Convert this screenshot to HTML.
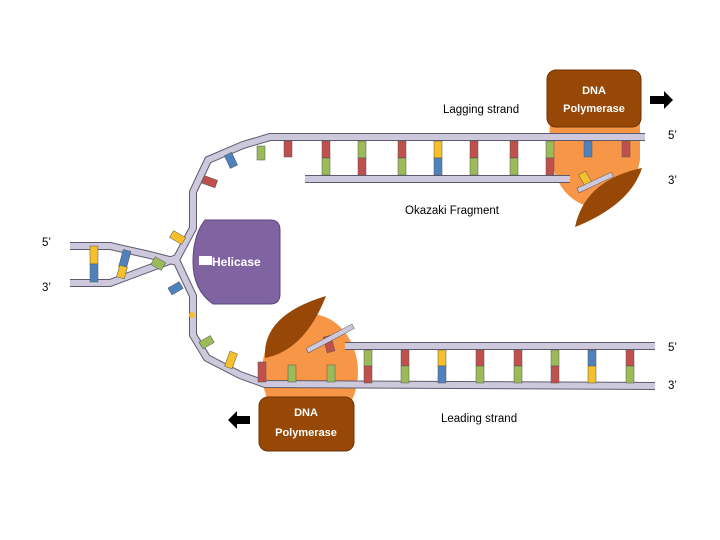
<!DOCTYPE html>
<html><head><meta charset="utf-8"><style>
body{margin:0;background:#fff}
svg{display:block}
text{font-family:"Liberation Sans",sans-serif}
.b rect{stroke:#555;stroke-width:0.5}
</style></head><body>
<svg width="720" height="540" viewBox="0 0 720 540" xmlns="http://www.w3.org/2000/svg">
<!-- orange blobs -->
<path d="M550,122 Q545,195 590,207 Q632,205 640,160 L640,118 Z" fill="#f79646"/>
<ellipse cx="310" cy="372" rx="48" ry="58" fill="#f79646"/>
<!-- polymerase boxes -->
<rect x="547" y="70" width="94" height="57" rx="9" fill="#974806" stroke="#6b3303" stroke-width="1"/>
<text x="594" y="94" font-size="11" font-weight="bold" fill="#fff" text-anchor="middle">DNA</text>
<text x="594" y="112" font-size="11" font-weight="bold" fill="#fff" text-anchor="middle">Polymerase</text>
<rect x="259" y="397" width="95" height="54" rx="9" fill="#974806" stroke="#6b3303" stroke-width="1"/>
<text x="306" y="416" font-size="11" font-weight="bold" fill="#fff" text-anchor="middle">DNA</text>
<text x="306" y="436" font-size="11" font-weight="bold" fill="#fff" text-anchor="middle">Polymerase</text>
<!-- helicase -->
<path d="M205,220 H270 Q280,220 280,230 V294 Q280,304 270,304 H213 Q193,290 193,262 Q193,235 205,220 Z" fill="#8064a2" stroke="#5c4678" stroke-width="1"/>
<rect x="199" y="256" width="13" height="9" fill="#fff"/>
<text x="212" y="266" font-size="12" font-weight="bold" fill="#fff">Helicase</text>
<!-- arrows -->
<path d="M650,96 H664 V91 L673,100 L664,109 V104 H650 Z" fill="#000"/>
<path d="M250,416 H237 V411 L228,420 L237,429 V424 H250 Z" fill="#000"/>
<!-- strands -->
<g fill="none" stroke="#5e5a6e" stroke-width="8" stroke-linejoin="miter">
<polyline points="645,137 270,137 243,145 208,160 193,192 193,228 177,258 150,268 110,283 70,283"/>
<polyline points="70,246 110,246 150,255 177,262 193,296 193,335 207,358 240,375 265,384 655,386"/>
<polyline points="305,179 570,179"/>
<polyline points="345,346 655,346"/>
</g>
<g fill="none" stroke="#cdc8dc" stroke-width="6" stroke-linejoin="miter">
<polyline points="645,137 270,137 243,145 208,160 193,192 193,228 177,258 150,268 110,283 70,283"/>
<polyline points="70,246 110,246 150,255 177,262 193,296 193,335 207,358 240,375 265,384 655,386"/>
<polyline points="305,179 570,179"/>
<polyline points="345,346 655,346"/>
</g>
<g class="b">
<rect x="284" y="141" width="8" height="16" fill="#c0504d"/>
<rect x="322" y="141" width="8" height="17" fill="#c0504d"/><rect x="322" y="158" width="8" height="17" fill="#9bbb59"/>
<rect x="358" y="141" width="8" height="17" fill="#9bbb59"/><rect x="358" y="158" width="8" height="17" fill="#c0504d"/>
<rect x="398" y="141" width="8" height="17" fill="#c0504d"/><rect x="398" y="158" width="8" height="17" fill="#9bbb59"/>
<rect x="434" y="141" width="8" height="17" fill="#f5c02a"/><rect x="434" y="158" width="8" height="17" fill="#4f81bd"/>
<rect x="470" y="141" width="8" height="17" fill="#c0504d"/><rect x="470" y="158" width="8" height="17" fill="#9bbb59"/>
<rect x="510" y="141" width="8" height="17" fill="#c0504d"/><rect x="510" y="158" width="8" height="17" fill="#9bbb59"/>
<rect x="546" y="141" width="8" height="17" fill="#9bbb59"/><rect x="546" y="158" width="8" height="17" fill="#c0504d"/>
<rect x="584" y="141" width="8" height="16" fill="#4f81bd"/>
<rect x="622" y="141" width="8" height="16" fill="#c0504d"/>
<rect x="257" y="146" width="8" height="14" fill="#9bbb59"/>
<rect x="224" y="154" width="8" height="14" fill="#4f81bd" transform="rotate(-25 228 154)"/>
<rect x="201" y="178" width="8" height="14" fill="#c0504d" transform="rotate(-70 205 180)"/>
<rect x="171" y="232" width="8" height="14" fill="#f5c02a" transform="rotate(-60 175 236)"/>
<rect x="154" y="258" width="9" height="12" fill="#9bbb59" transform="rotate(-60 158 264)"/>
<rect x="172" y="282" width="8" height="13" fill="#4f81bd" transform="rotate(60 176 288)"/>
<circle cx="192" cy="315" r="3" fill="#f5c02a"/>
<rect x="203" y="336" width="8" height="13" fill="#9bbb59" transform="rotate(60 207 342)"/>
<rect x="227" y="352" width="8" height="16" fill="#f5c02a" transform="rotate(20 231 360)"/>
<rect x="90" y="246" width="8" height="18" fill="#f5c02a"/><rect x="90" y="264" width="8" height="18" fill="#4f81bd"/>
<rect x="120" y="250" width="8" height="18" fill="#4f81bd" transform="rotate(15 124 262)"/><rect x="118" y="266" width="8" height="12" fill="#f5c02a" transform="rotate(15 122 272)"/>
<rect x="582" y="172" width="8" height="16" fill="#f5c02a" transform="rotate(-30 586 180)"/>
<rect x="576" y="180" width="38" height="5" fill="#cdc8dc" stroke="#5e5a6e" stroke-width="0.8" transform="rotate(-25 595 182)"/>
<rect x="364" y="350" width="8" height="16" fill="#9bbb59"/><rect x="364" y="366" width="8" height="17" fill="#c0504d"/>
<rect x="401" y="350" width="8" height="16" fill="#c0504d"/><rect x="401" y="366" width="8" height="17" fill="#9bbb59"/>
<rect x="438" y="350" width="8" height="16" fill="#f5c02a"/><rect x="438" y="366" width="8" height="17" fill="#4f81bd"/>
<rect x="476" y="350" width="8" height="16" fill="#c0504d"/><rect x="476" y="366" width="8" height="17" fill="#9bbb59"/>
<rect x="514" y="350" width="8" height="16" fill="#c0504d"/><rect x="514" y="366" width="8" height="17" fill="#9bbb59"/>
<rect x="551" y="350" width="8" height="16" fill="#9bbb59"/><rect x="551" y="366" width="8" height="17" fill="#c0504d"/>
<rect x="588" y="350" width="8" height="16" fill="#4f81bd"/><rect x="588" y="366" width="8" height="17" fill="#f5c02a"/>
<rect x="626" y="350" width="8" height="16" fill="#c0504d"/><rect x="626" y="366" width="8" height="17" fill="#9bbb59"/>
<rect x="288" y="365" width="8" height="17" fill="#9bbb59"/>
<rect x="327" y="365" width="8" height="17" fill="#9bbb59"/>
<rect x="258" y="362" width="8" height="20" fill="#c0504d"/>
<rect x="325" y="336" width="8" height="16" fill="#c0504d" transform="rotate(-15 329 344)"/>
<rect x="304" y="336" width="52" height="5" fill="#cdc8dc" stroke="#5e5a6e" stroke-width="0.8" transform="rotate(-28 330 338)"/>
</g>
<!-- brown leaves -->
<path d="M575,227 Q585,180 642,168 Q630,205 575,227 Z" fill="#974806"/>
<path d="M265,358 Q262,315 326,296 Q305,350 265,358 Z" fill="#974806"/>
<!-- labels -->
<g font-size="11.5" fill="#000">
<text x="443" y="113">Lagging strand</text>
<text x="405" y="214">Okazaki Fragment</text>
<text x="441" y="422">Leading strand</text>
<text x="668" y="139">5’</text>
<text x="668" y="184">3’</text>
<text x="668" y="351">5’</text>
<text x="668" y="389">3’</text>
<text x="42" y="246">5’</text>
<text x="42" y="291">3’</text>
</g>
</svg>
</body></html>
